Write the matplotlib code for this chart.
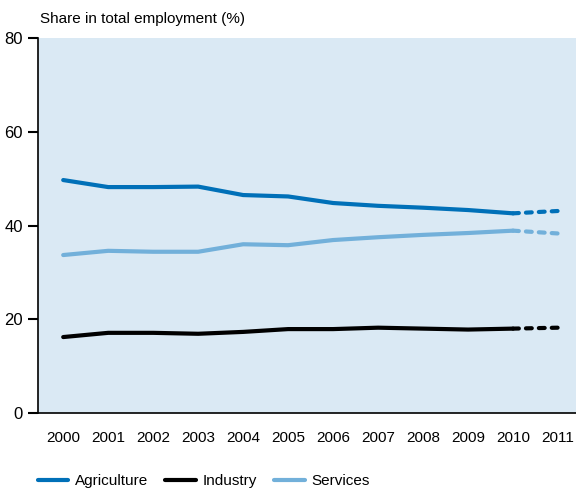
import matplotlib
matplotlib.use("Agg")
import matplotlib.pyplot as plt

years = list(range(2000, 2012))
agriculture = [49.7, 48.2, 48.2, 48.3, 46.5, 46.2, 44.8, 44.2, 43.8, 43.3, 42.6, 43.1]
industry = [16.2, 17.1, 17.1, 16.9, 17.3, 17.9, 17.9, 18.2, 18.0, 17.8, 18.0, 18.2]
services = [33.7, 34.6, 34.4, 34.4, 36.0, 35.8, 36.9, 37.5, 38.0, 38.4, 38.9, 38.3]

plt.rcParams["font.family"] = ["Liberation Sans", "DejaVu Sans"]

fig = plt.figure(figsize=(5.76, 4.94), dpi=100)
ax = fig.add_axes([0.066, 0.164, 0.934, 0.759])
ax.set_facecolor("#dae9f4")

series = [("Agriculture", agriculture, "#0070b8"),
          ("Industry", industry, "#000000"),
          ("Services", services, "#72b0da")]

for name, vals, col in series:
    ax.plot(years[:-1], vals[:-1], color=col, lw=3, solid_capstyle="round", label=name)
    ax.plot(years[-2:], vals[-2:], color=col, lw=3, ls=(0, (1.4, 1.7)), dash_capstyle="round")

ax.set_xlim(1999.44, 2011.4)
ax.set_ylim(0, 80)
ax.set_yticks([0, 20, 40, 60, 80])
ax.set_xticks(years)
ax.tick_params(axis="y", direction="out", length=7, width=1.5, labelsize=12, pad=4)
ax.tick_params(axis="x", length=0, labelsize=11, pad=13)
for s in ["top", "right"]:
    ax.spines[s].set_visible(False)
ax.spines["left"].set_linewidth(1.2)
ax.spines["bottom"].set_linewidth(1.2)

fig.text(0.069, 0.962, "Share in total employment (%)", fontsize=11, va="center")

handles = [l for l in ax.get_lines()[::2]]
fig.legend(handles, [s[0] for s in series], loc="center left", bbox_to_anchor=(0.042, 0.026),
           ncol=3, frameon=False, fontsize=11, handlelength=2.0, columnspacing=1.1,
           handletextpad=0.45)

fig.savefig("out.png", dpi=100)
